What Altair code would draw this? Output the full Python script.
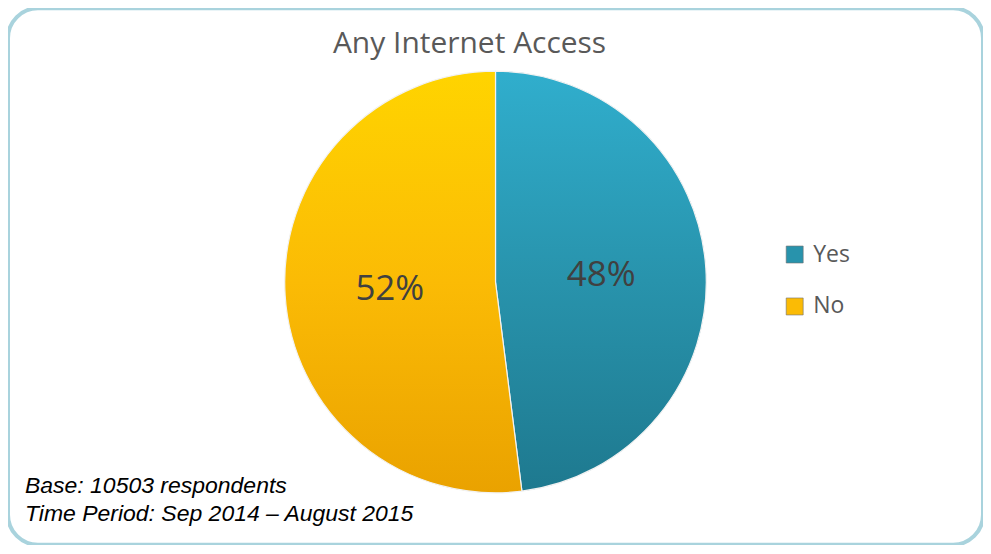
import altair as alt
import pandas as pd

categories = ["Yes", "No"]
shares = [48, 52]
labels = ["48%", "52%"]
order = [1, 2]

df = pd.DataFrame({"answer": categories, "share": shares, "label": labels, "order": order})

W, H = 976, 537
CX, CY = 488, 274
R = 211

theta_scale = alt.Scale(domain=[0, 100], range=[0, 6.283185307179586])

base = alt.Chart(df).transform_window(
    cum="sum(share)", sort=[alt.SortField("order")]
).transform_calculate(
    start="datum.cum - datum.share",
    mid="datum.cum - datum.share / 2",
)

legend_layer = base.mark_arc(radius=R, stroke="#ffffff", strokeWidth=1).encode(
    x=alt.value(CX), y=alt.value(CY),
    theta=alt.Theta("start:Q", scale=theta_scale),
    theta2="cum:Q",
    color=alt.Color(
        "answer:N",
        scale=alt.Scale(domain=categories, range=["#2893ac", "#fbbb05"]),
        sort=categories,
        legend=alt.Legend(
            title=None, orient="none", legendX=776, legendY=235,
            symbolType="square", symbolSize=289, symbolStrokeWidth=0.6,
            symbolStrokeColor="#6f6f6f",
            labelFontSize=23, labelFont="Open Sans", labelColor="#595959",
            rowPadding=28, labelOffset=7,
        ),
    ),
)

grad_yes = alt.Gradient(
    gradient="linear", x1=0, y1=0, x2=0, y2=1,
    stops=[alt.GradientStop(color="#30aecd", offset=0),
           alt.GradientStop(color="#2893ac", offset=0.5),
           alt.GradientStop(color="#1e798f", offset=1)],
)
grad_no = alt.Gradient(
    gradient="linear", x1=0, y1=0, x2=0, y2=1,
    stops=[alt.GradientStop(color="#ffd400", offset=0),
           alt.GradientStop(color="#fbbb05", offset=0.5),
           alt.GradientStop(color="#eaa200", offset=1)],
)

def slice_layer(cat, grad):
    return base.transform_filter(alt.datum.answer == cat).mark_arc(
        radius=R, fill=grad, stroke="#f2f2f2", strokeWidth=1.2
    ).encode(
        x=alt.value(CX), y=alt.value(CY),
        theta=alt.Theta("start:Q", scale=theta_scale),
        theta2="cum:Q",
    )

pct = base.mark_text(fontSize=35, font="Open Sans", color="#404040").encode(
    x=alt.value(CX), y=alt.value(CY),
    theta=alt.Theta("mid:Q", scale=theta_scale),
    radius=alt.value(106),
    text="label:N",
)

title_df = pd.DataFrame({"t": ["Any Internet Access"]})
title = alt.Chart(title_df).mark_text(
    fontSize=30, font="Open Sans", color="#595959", baseline="middle"
).encode(x=alt.value(462), y=alt.value(36), text="t:N")

notes = ["Base: 10503 respondents", "Time Period: Sep 2014 \u2013 August 2015"]
note_df = pd.DataFrame({"t": notes, "i": [0, 1]})
note = alt.Chart(note_df).mark_text(
    fontSize=23, font="Liberation Sans", fontStyle="italic", color="#000000",
    align="left", baseline="alphabetic",
).encode(
    x=alt.value(17),
    y=alt.Y("i:Q", scale=alt.Scale(domain=[0, 1], range=[485, 513]), axis=None),
    text="t:N",
)

chart = alt.layer(
    legend_layer, slice_layer("Yes", grad_yes), slice_layer("No", grad_no), pct, title, note
).properties(
    width=W, height=H, padding=0, autosize=alt.AutoSizeParams(type="none")
).configure_view(
    stroke="#a9d3dd", strokeWidth=4, cornerRadius=30
)

chart.save("out.html", embed_options={"renderer": "svg", "actions": False})
